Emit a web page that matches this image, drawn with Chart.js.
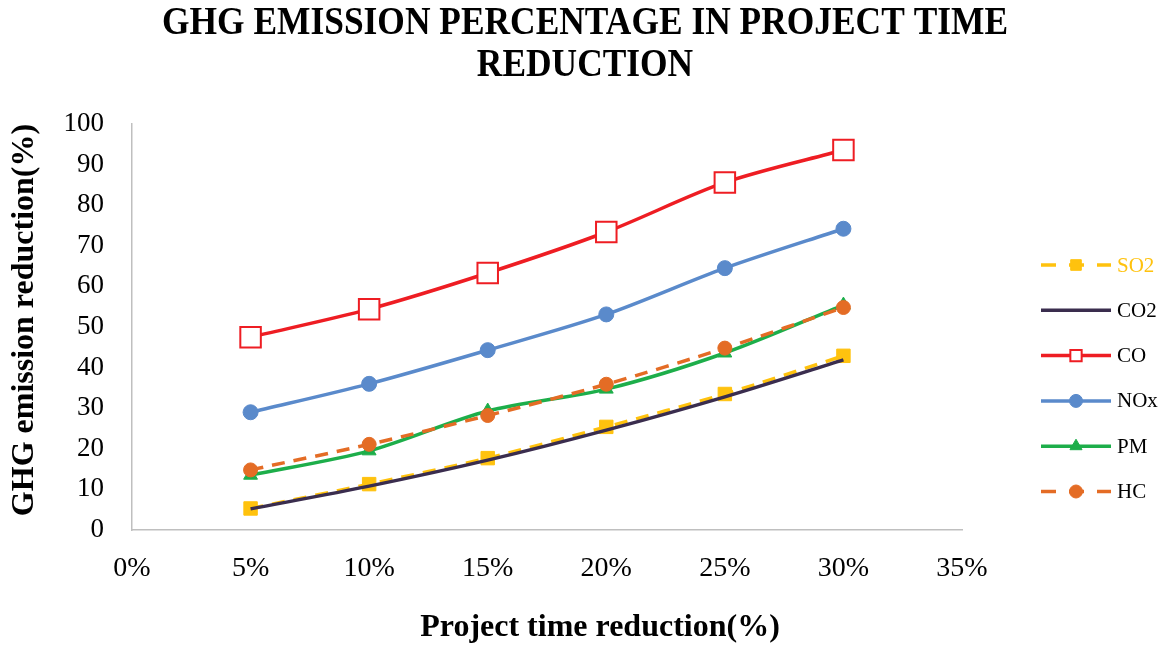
<!DOCTYPE html>
<html>
<head>
<meta charset="utf-8">
<title>GHG emission percentage in project time reduction</title>
<script src="https://cdn.jsdelivr.net/npm/chart.js@4/dist/chart.umd.min.js"></script>
<style>
  html, body { margin: 0; padding: 0; background: #ffffff; }
  #wrap { width: 1164px; height: 645px; position: relative; }
  canvas { display: block; }
</style>
</head>
<body>
<div id="wrap"><canvas id="chart" width="1164" height="645"></canvas></div>
<script>
// Project time reduction (%) at which each emission was evaluated
const timeReduction = [5, 10, 15, 20, 25, 30];
// Tick labels
const xTicks = [0, 5, 10, 15, 20, 25, 30, 35];
const yTicks = [0, 10, 20, 30, 40, 50, 60, 70, 80, 90, 100];

// GHG emission reduction (%) per pollutant
const so2 = [5.3, 11.3, 17.7, 25.4, 33.5, 42.9];
const co2 = [5.2, 10.8, 17.2, 24.6, 32.8, 41.9];
const co  = [47.5, 54.4, 63.3, 73.4, 85.6, 93.6];
const nox = [29.0, 36.0, 44.3, 53.1, 64.5, 74.2];
const pm  = [13.5, 19.5, 29.3, 34.7, 43.6, 55.4];
const hc  = [14.8, 21.1, 28.2, 35.9, 44.8, 54.8];

const titleLines = ['GHG EMISSION PERCENTAGE IN PROJECT TIME', 'REDUCTION'];
const xTitle = 'Project time reduction(%)';
const yTitle = 'GHG emission reduction(%)';

const SERIF = '"Liberation Serif", "Times New Roman", serif';

function pts(values) {
  return values.map((v, i) => ({ x: timeReduction[i], y: v }));
}

function series(label, values, color, extra) {
  return Object.assign({
    label: label,
    data: pts(values),
    borderColor: color,
    backgroundColor: color,
    pointBackgroundColor: color,
    pointBorderColor: color,
    borderWidth: 3.5,
    tension: 0.3,
    fill: false,
    pointBorderWidth: 1,
    legendRadius: 6,
    legendDash: [],
    textColor: '#000000'
  }, extra);
}

const datasets = [
  series('SO2', so2, '#FFC20E', { borderDash: [13, 9], legendDash: [15, 13], pointStyle: 'rect', pointRadius: 9.5, legendRadius: 7.5, textColor: '#FFC20E', order: 5 }),
  series('CO2', co2, '#3A2D4E', { pointRadius: 0, legendRadius: 0, order: 1 }),
  series('CO', co, '#EE1D23', { pointStyle: 'rect', pointRadius: 14.5, pointBackgroundColor: '#ffffff', pointBorderWidth: 2, legendRadius: 8, order: 2 }),
  series('NOx', nox, '#5A8ACB', { pointStyle: 'circle', pointRadius: 7.5, legendRadius: 6.5, order: 3 }),
  series('PM', pm, '#1DAE4A', { pointStyle: 'triangle', pointRadius: 8, legendRadius: 7, order: 4 }),
  series('HC', hc, '#E46C25', { borderDash: [13, 9], legendDash: [15, 13], pointStyle: 'circle', pointRadius: 7, legendRadius: 6.5, order: 0 })
];

// Title, axis titles and the line-with-marker legend
const decorations = {
  id: 'decorations',
  afterDraw(chart) {
    const ctx = chart.ctx;
    ctx.save();
    ctx.fillStyle = '#000000';
    ctx.textAlign = 'center';
    ctx.textBaseline = 'middle';

    // Chart title (condensed bold serif)
    ctx.font = 'bold 40px ' + SERIF;
    const sx = 0.885;
    const titleY = [24, 66];
    titleLines.forEach((t, i) => {
      ctx.save();
      ctx.translate(585, titleY[i]);
      ctx.scale(sx, 1);
      ctx.fillText(t, 0, 0);
      ctx.restore();
    });

    // Axis titles
    ctx.font = 'bold 32px ' + SERIF;
    ctx.fillText(xTitle, 600, 628);
    ctx.save();
    ctx.translate(25, 320);
    ctx.rotate(-Math.PI / 2);
    ctx.fillText(yTitle, 0, 0);
    ctx.restore();

    // Legend
    const x0 = 1041, x1 = 1111, xm = 1076, y0 = 265, step = 45.3;
    chart.data.datasets.forEach((ds, i) => {
      const y = y0 + i * step;
      ctx.save();
      ctx.strokeStyle = ds.borderColor;
      ctx.lineWidth = ds.borderWidth;
      ctx.lineCap = 'butt';
      ctx.setLineDash(ds.legendDash);
      ctx.beginPath();
      ctx.moveTo(x0, y);
      ctx.lineTo(x1, y);
      ctx.stroke();
      ctx.setLineDash([]);
      if (ds.legendRadius > 0) {
        ctx.fillStyle = ds.pointBackgroundColor;
        ctx.strokeStyle = ds.pointBorderColor;
        ctx.lineWidth = ds.pointBorderWidth;
        Chart.helpers.drawPoint(ctx, {
          pointStyle: ds.pointStyle,
          radius: ds.legendRadius,
          rotation: 0,
          borderWidth: ds.pointBorderWidth
        }, xm, y);
      }
      ctx.restore();
      ctx.fillStyle = ds.textColor;
      ctx.font = '21px ' + SERIF;
      ctx.textAlign = 'left';
      ctx.fillText(ds.label, 1117, y + 1);
    });
    ctx.restore();
  }
};

new Chart(document.getElementById('chart'), {
  type: 'line',
  data: { datasets: datasets },
  options: {
    responsive: false,
    devicePixelRatio: 1,
    animation: false,
    events: [],
    layout: { padding: { top: 124, right: 202, bottom: 0, left: 0 } },
    plugins: { legend: { display: false }, title: { display: false }, tooltip: { enabled: false } },
    scales: {
      x: {
        type: 'linear',
        min: xTicks[0],
        max: xTicks[xTicks.length - 1],
        afterBuildTicks: s => { s.ticks = xTicks.map(v => ({ value: v })); },
        afterFit: s => { s.height = 115; },
        grid: { display: false, drawTicks: false },
        border: { display: true, color: '#BFBFBF', width: 1.5 },
        ticks: {
          color: '#000000',
          padding: 22,
          maxRotation: 0,
          autoSkip: false,
          font: { family: SERIF, size: 28 },
          callback: v => v + '%'
        }
      },
      y: {
        min: yTicks[0],
        max: yTicks[yTicks.length - 1],
        afterBuildTicks: s => { s.ticks = yTicks.map(v => ({ value: v })); },
        afterFit: s => { s.width = 132; },
        grid: { display: false, drawTicks: false },
        border: { display: true, color: '#BFBFBF', width: 1.5 },
        ticks: {
          color: '#000000',
          padding: 28,
          autoSkip: false,
          font: { family: SERIF, size: 27 }
        }
      }
    }
  },
  plugins: [decorations]
});
</script>
</body>
</html>
